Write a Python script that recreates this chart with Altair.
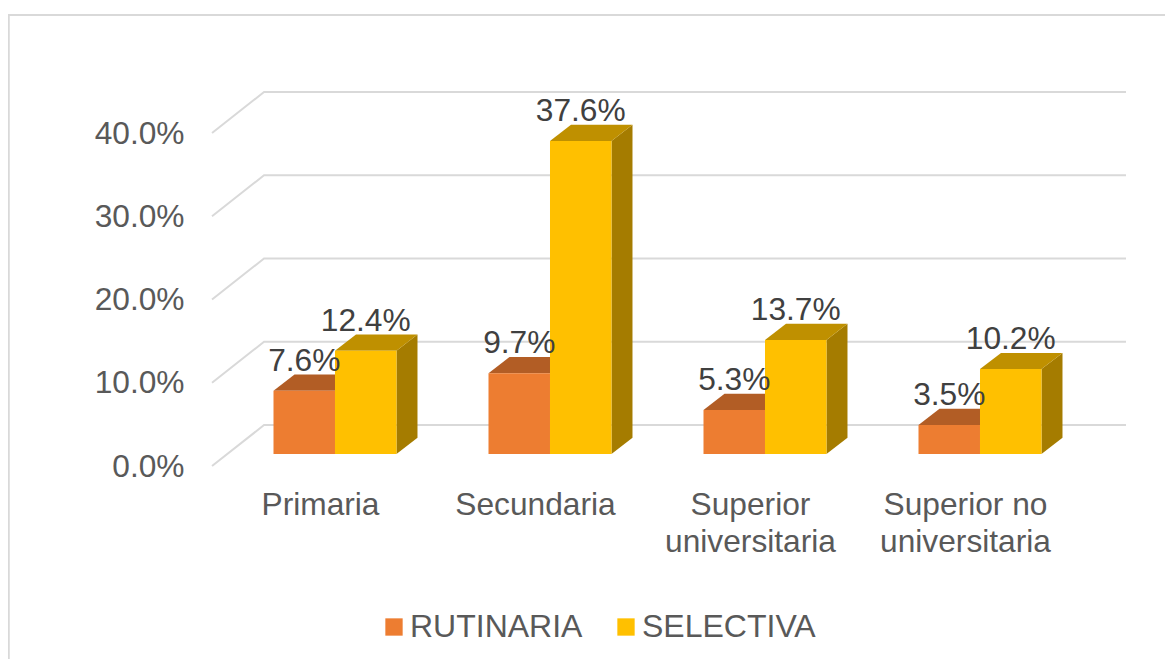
import altair as alt
import pandas as pd

# --- data ---
axis_labels = ["'Primaria'", "'Secundaria'", "['Superior','universitaria']", "['Superior no','universitaria']"]
rutinaria = [7.6, 9.7, 5.3, 3.5]
selectiva = [12.4, 37.6, 13.7, 10.2]
series_names = ["RUTINARIA", "SELECTIVA"]
front_colors = ["#ED7D31", "#FFC000"]
top_colors = ["#B25D25", "#BF9000"]
side_colors = ["#B25D25", "#A57C00"]
ticks = [0, 10, 20, 30, 40]
FONT = "Liberation Sans"
FS = 31.7

# --- pseudo-3D projection, expressed in data units ---
X_DOMAIN = [-1.5209, 3.8605]
Y_DOMAIN = [-23.18, 55.015]
BAR_W = 0.2860      # bar width in category units
DX = 0.0977         # bar depth along x
DY = 1.95           # bar depth along y (percent)
BASE = 1.44         # floor height of the bars' front edge
WALL_DY = 4.925     # floor depth of the back wall
WALL_X0, WALL_X1, WALL_X2 = -0.572, -0.330, 3.679

xs = alt.Scale(domain=X_DOMAIN, nice=False, zero=False)
ys = alt.Scale(domain=Y_DOMAIN, nice=False, zero=False)

label_expr = "".join(f"datum.value=={i}?{t}:" for i, t in enumerate(axis_labels)) + "''"
pct_expr = "format(datum.value,'.1f')+'%'"

y_axis = alt.Axis(values=ticks, labelExpr=pct_expr, offset=-176, domain=False, ticks=False, tickSize=0,
                  grid=False, labelPadding=0, labelFont=FONT, labelFontSize=FS, labelColor="#595959")
x_axis = alt.Axis(values=[0, 1, 2, 3], labelExpr=label_expr, offset=-170, domain=False, ticks=False, tickSize=0,
                  grid=False, labelPadding=0, labelOffset=-15, labelFont=FONT, labelFontSize=FS,
                  labelColor="#595959", labelLineHeight=37, labelAngle=0, labelOverlap=False)


def X(field):
    return alt.X(f"{field}:Q", scale=xs, title=None, axis=x_axis)


def Y(field):
    return alt.Y(f"{field}:Q", scale=ys, title=None, axis=y_axis)


fronts, tops, sides, labels = [], [], [], []
for s, (name, vals) in enumerate(zip(series_names, [rutinaria, selectiva])):
    for i, v in enumerate(vals):
        x0 = i - BAR_W if s == 0 else i
        x1 = i if s == 0 else i + BAR_W
        b, t = BASE, BASE + v
        bar = f"{s}-{i}"
        fronts.append(dict(serie=name, x0=x0, x1=x1, b=b, t=t))
        labels.append(dict(x=(x0 + x1) / 2, y=t, v=v))
        for px, lo, hi in [(x0, t, t), (x0 + DX, t, t + DY), (x1, t, t + DY), (x1 + DX, t + DY, t + DY)]:
            tops.append(dict(s=s, bar=bar, x=px, lo=lo, hi=hi))
        for px, lo, hi in [(x1, b, t), (x1 + DX, b + DY, t + DY)]:
            sides.append(dict(s=s, bar=bar, x=px, lo=lo, hi=hi))

grid = []
for v in ticks:
    for k, (px, py) in enumerate([(WALL_X0, v), (WALL_X1, v + WALL_DY), (WALL_X2, v + WALL_DY)]):
        grid.append(dict(line=v, k=k, x=px, y=py))

frame = pd.DataFrame(dict(
    k=[0, 1, 2],
    x=[X_DOMAIN[0] + 0.0035, X_DOMAIN[0] + 0.0035, X_DOMAIN[1]],
    y=[Y_DOMAIN[0], Y_DOMAIN[1] - 0.85, Y_DOMAIN[1] - 0.85],
))

layers = [
    alt.Chart(frame).mark_line(color="#D9D9D9", strokeWidth=2).encode(
        x=X("x"), y=Y("y"), order="k:Q"),
    alt.Chart(pd.DataFrame(grid)).mark_line(color="#D9D9D9", strokeWidth=2).encode(
        x=X("x"), y=Y("y"), detail="line:N", order="k:Q"),
]

tops_df, sides_df = pd.DataFrame(tops), pd.DataFrame(sides)
for s in range(2):
    layers.append(alt.Chart(sides_df[sides_df.s == s]).mark_area(color=side_colors[s]).encode(
        x=X("x"), y=Y("lo"), y2="hi:Q", detail="bar:N"))
    layers.append(alt.Chart(tops_df[tops_df.s == s]).mark_area(color=top_colors[s]).encode(
        x=X("x"), y=Y("lo"), y2="hi:Q", detail="bar:N"))

layers.append(alt.Chart(pd.DataFrame(fronts)).mark_rect().encode(
    x=X("x0"), x2="x1:Q", y=Y("b"), y2="t:Q",
    color=alt.Color("serie:N", scale=alt.Scale(domain=series_names, range=front_colors),
                    legend=alt.Legend(orient="none", legendX=370, legendY=603, direction="horizontal",
                                      columns=2, title=None, symbolType="square", symbolSize=300,
                                      symbolStrokeWidth=0, labelFont=FONT, labelFontSize=32,
                                      labelColor="#595959", labelOffset=0, columnPadding=27,
                                      labelLimit=300)),
))

layers.append(alt.Chart(pd.DataFrame(labels)).transform_calculate(
    lab="format(datum.v,'.1f')+'%'"
).mark_text(
    font=FONT, fontSize=FS, color="#404040", dy=-30, baseline="middle", align="center"
).encode(x=X("x"), y=Y("y"), text="lab:N"))

chart = alt.layer(*layers).properties(
    width=1157, height=651, padding=0,
    autosize=alt.AutoSizeParams(type="none"),
    background="white",
).configure_view(stroke=None)

chart.save("out.html", embed_options={"renderer": "svg", "actions": False})
